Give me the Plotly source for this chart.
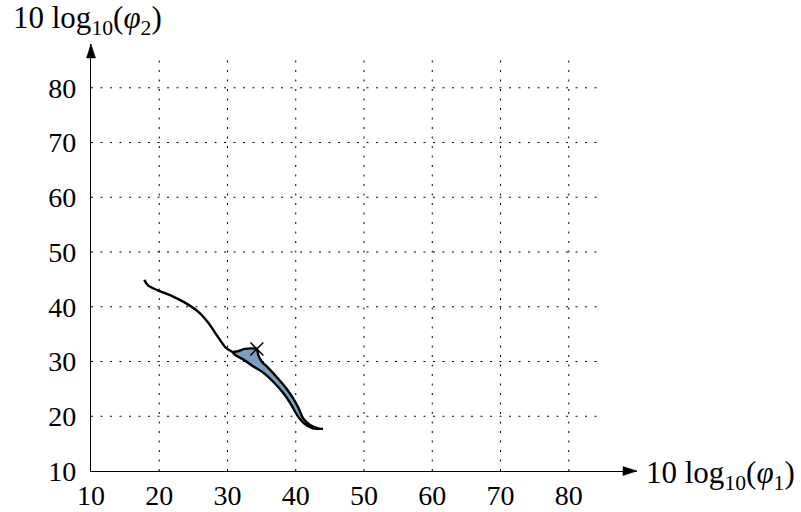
import plotly.graph_objects as go

# Single trajectory before it splits
trunk_x = [17.8, 18.35, 19.8, 21.8, 23.7, 25.7, 27.1, 28.6, 29.7, 30.8]
trunk_y = [44.9, 43.9, 43.0, 42.0, 40.8, 39.1, 37.2, 34.5, 32.6, 31.7]

# Upper and lower boundaries of the shaded band
upper_x = [30.8, 31.6, 32.5, 33.5, 34.3, 34.5, 35.0, 36.0, 37.4, 38.6, 39.6, 40.4, 41.1, 42.1, 43.3, 44.0]
upper_y = [31.7, 31.9, 32.3, 32.4, 32.3, 31.2, 30.0, 28.8, 26.9, 25.1, 23.3, 21.5, 19.6, 18.4, 17.8, 17.7]
lower_x = [30.8, 31.1, 32.4, 33.8, 35.3, 36.7, 38.2, 39.2, 40.2, 41.2, 42.5, 44.0]
lower_y = [31.7, 31.2, 30.3, 29.1, 27.9, 26.3, 24.2, 22.4, 20.2, 18.7, 17.8, 17.7]

# Marked operating point
mark_x = [34.3]
mark_y = [32.3]

tick_vals = [10, 20, 30, 40, 50, 60, 70, 80]
grid_vals = [20, 30, 40, 50, 60, 70, 80]
grid_end = 85
x_max, y_max = 90, 88

FONT = "Liberation Serif"
FILL = "rgb(122,159,193)"

fig = go.Figure()

band_x = upper_x + lower_x[::-1]
band_y = upper_y + lower_y[::-1]
fig.add_trace(go.Scatter(x=band_x, y=band_y, mode="lines", fill="toself",
                         fillcolor=FILL, line=dict(color="black", width=2.4, shape="spline", smoothing=0.6),
                         hoverinfo="skip", showlegend=False))
fig.add_trace(go.Scatter(x=trunk_x, y=trunk_y, mode="lines",
                         line=dict(color="black", width=2.4, shape="spline", smoothing=0.8),
                         showlegend=False))
fig.add_trace(go.Scatter(x=mark_x, y=mark_y, mode="markers",
                         marker=dict(symbol="x-thin", size=13, line=dict(color="black", width=1.5)),
                         showlegend=False))

shapes = []
for v in grid_vals:
    shapes.append(dict(type="line", xref="x", yref="y", x0=v, x1=v, y0=10, y1=grid_end,
                       line=dict(color="black", width=1, dash="2px,7.5px"), layer="below"))
    shapes.append(dict(type="line", xref="x", yref="y", x0=10, x1=grid_end, y0=v, y1=v,
                       line=dict(color="black", width=1, dash="2px,7.5px"), layer="below"))

# arrow heads at the ends of the axes (paper refs so they are not clipped)
shapes.append(dict(type="path", xref="paper", yref="paper", xsizemode="pixel", ysizemode="pixel",
                   xanchor=1, yanchor=0, path="M0,0 L-14,-4.5 L-14,4.5 Z",
                   fillcolor="black", line=dict(color="black", width=0.5)))
shapes.append(dict(type="path", xref="paper", yref="paper", xsizemode="pixel", ysizemode="pixel",
                   xanchor=0, yanchor=1, path="M0,0 L-4.5,-14 L4.5,-14 Z",
                   fillcolor="black", line=dict(color="black", width=0.5)))

annotations = [
    dict(x=-0.0055, y=1.056, xref="paper", yref="paper", showarrow=False, xanchor="center", yanchor="middle",
         text="10 log<sub>10</sub>(<i>φ</i><sub>2</sub>)", font=dict(family=FONT, size=31, color="black")),
    dict(x=1.0125, y=-0.01, xref="paper", yref="paper", showarrow=False, xanchor="left", yanchor="middle",
         text="10 log<sub>10</sub>(<i>φ</i><sub>1</sub>)", font=dict(family=FONT, size=31, color="black")),
]

axis_common = dict(showgrid=False, zeroline=False, showline=True, linecolor="black", linewidth=1.4,
                   tickvals=tick_vals, automargin=False,
                   tickfont=dict(family=FONT, size=28, color="black"))

fig.update_layout(
    width=801, height=512, autosize=False,
    margin=dict(l=91, r=164, t=44, b=41, autoexpand=False),
    plot_bgcolor="white", paper_bgcolor="white",
    xaxis=dict(range=[10, x_max], ticks="", ticklabelstandoff=-1, **axis_common),
    yaxis=dict(range=[10, y_max], ticks="outside", ticklen=8, tickcolor="rgba(0,0,0,0)", **axis_common),
    shapes=shapes, annotations=annotations,
)

fig.write_html("out.html")
